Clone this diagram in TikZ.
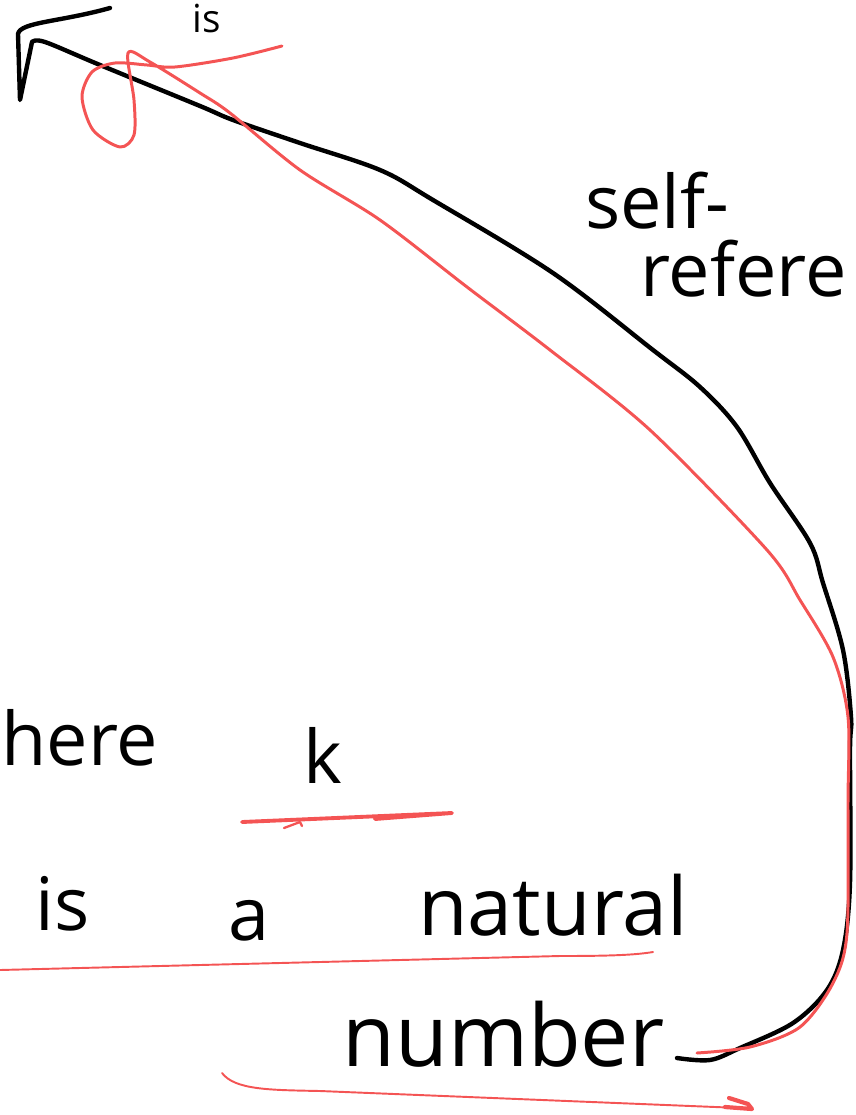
\documentclass[tikz,border=0pt]{standalone}
\usepackage{fontspec}
\setmainfont{Open Sans}
\definecolor{penred}{HTML}{F45454}

\begin{document}
\begin{tikzpicture}
[
	x=0.02cm,
	y=-0.02cm,
	ink/.style={line width=2.5pt,line cap=round,line join=round},
	redink/.style={draw=penred,line width=1.7pt,line cap=round,line join=round},
	thinred/.style={draw=penred,line width=1.1pt,line cap=round},
	word/.style={font=\fontsize{42}{48}\selectfont,inner sep=0pt,anchor=base west}
]

	\useasboundingbox (0,0) rectangle (855,1115);
	\clip (0,0) rectangle (855,1115);

	% words
	\node[word,font=\fontsize{22}{24}\selectfont] (topis) at (192,33) {is};
	\node[word] (self) at (585,228) {self-};
	\node[word] (refer) at (640,296) {refere};
	\node[word] (here) at (1,765) {here};
	\node[word] (kay) at (303,783) {k};
	\node[word] (is) at (35,930) {is};
	\node[word] (a) at (228,940) {a};
	\node[word,font=\fontsize{46}{48}\selectfont] (natural) at (418,935) {natural};
	\node[word,font=\fontsize{49}{52}\selectfont] (number) at (342,1066) {number};

	\coordinate (hook) at (20,100);
	\coordinate (blackend) at (677,1058);
	\coordinate (redend) at (697,1053);
	\coordinate (loopend) at (282,46);

	% black arc back to the top
	\draw[ink] plot[smooth,tension=0.55] coordinates {
	  (blackend) (710,1060) (740,1048) (793,1023) (827,990) (843,950)
	  (850,883) (850,750) (851,717) (843,650) (823,583) (810,543)
	  (770,483) (737,427) (700,387) (653,350) (553,273) (433,200)
	  (380,170) (300,143) (233,120) (200,106) (100,65) (45,42) (32,42)
	}
	  -- (hook) -- (18,34) .. controls (20,22) and (60,22) .. (110,8);

	% red arc with its loop
	\draw[redink] plot[smooth,tension=0.5] coordinates {
	  (redend) (750,1047) (800,1027) (833,983) (847,933) (848,800)
	  (848,717) (833,657) (800,600) (767,550) (650,430) (550,350)
	  (467,287) (380,220) (300,170) (230,113) (200,93) (150,62)
	  (128,53) (134,100) (134,135) (120,147) (93,130) (82,97)
	  (92,72) (115,63) (147,65) (175,67) (233,58) (loopend)
	};

	% underlines
	\draw[redink,line width=2.2pt] (242,822) -- (452,813) -- (375,819);
	\draw[redink,line width=1.3pt] (284,828) -- (300,822) -- (302,826);
	\draw[thinred] (0,970) -- (560,956) .. controls (610,956) and (635,955) .. (653,952);
	\draw[thinred] (222,1073) .. controls (235,1090) and (270,1090) .. (320,1091)
	  -- (740,1108);
	\draw[redink,line width=2.4pt] (729,1098) -- (748,1104) -- (752,1109) -- (725,1107);

\end{tikzpicture}
\end{document}
